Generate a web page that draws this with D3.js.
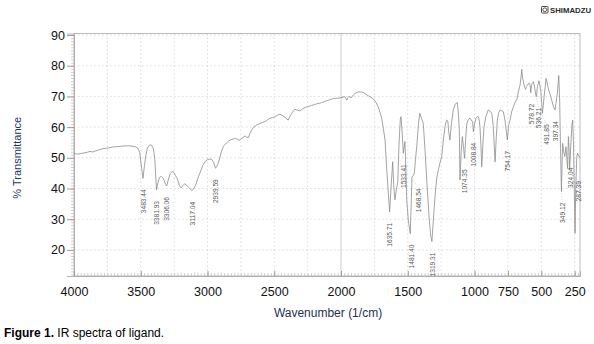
<!DOCTYPE html>
<html>
<head>
<meta charset="utf-8">
<script src="https://cdn.jsdelivr.net/npm/d3@7"></script>
<style>
  html, body { margin: 0; padding: 0; background: #fff; }
  svg { display: block; font-family: "Liberation Sans", Arial, sans-serif; }
</style>
</head>
<body>
<svg id="chart" width="594" height="344"></svg>
<script>
// IR spectrum of the ligand: wavenumber (1/cm) and % transmittance
const wavenumber = [
  4000, 3975, 3950, 3925, 3900, 3880, 3860, 3840, 3815, 3790, 3765, 3740, 3715, 3690, 3665, 3640,
  3615, 3590, 3565, 3540, 3522, 3508, 3497, 3483.44, 3472, 3462, 3450, 3432, 3418, 3405, 3395,
  3381.93, 3372, 3360, 3345, 3331, 3318, 3306.06, 3295, 3280, 3265, 3252, 3240, 3228, 3212, 3198,
  3185, 3170, 3158, 3144, 3130, 3117.04, 3100, 3085, 3068, 3052, 3035, 3018, 3000, 2985, 2969,
  2955, 2939.59, 2925, 2910, 2895, 2880, 2860, 2845, 2830, 2810, 2790, 2775, 2757, 2740, 2720,
  2705, 2694, 2682, 2669, 2650, 2631, 2607, 2590, 2569, 2550, 2532, 2515, 2494, 2475, 2457, 2440,
  2419, 2405, 2395, 2382, 2369, 2355, 2345, 2325, 2307, 2290, 2270, 2245, 2219, 2200, 2182, 2160,
  2145, 2125, 2107, 2080, 2058, 2035, 2007, 1985, 1970, 1957, 1948, 1938, 1928, 1920, 1908, 1895,
  1875, 1858, 1845, 1833, 1820, 1807, 1795, 1783, 1768, 1753, 1738, 1721, 1708, 1695, 1683, 1670,
  1660, 1648, 1635.71, 1625, 1613, 1604, 1596, 1586, 1575, 1566, 1556, 1551, 1543, 1533.41, 1527,
  1521, 1514, 1508, 1496, 1481.40, 1473, 1468.54, 1460, 1451, 1442, 1433, 1420, 1410, 1398, 1384,
  1370, 1358, 1340, 1328, 1319.31, 1308, 1296, 1283, 1271, 1258, 1246, 1232, 1221, 1210, 1200,
  1192, 1184, 1172, 1159, 1145, 1129, 1120, 1114, 1109, 1100, 1091, 1083, 1074.35, 1066, 1058,
  1046, 1034, 1020, 1014, 1008.84, 1000, 989, 980, 971, 964, 959, 952, 946, 938, 929, 915, 897,
  885, 871, 860, 852, 846, 838, 829, 818, 809, 795, 784, 772, 763, 754.17, 745, 734, 722, 709,
  697, 684, 672, 659, 650, 646, 640, 632, 625, 618, 611, 600, 590, 583, 578.72, 574, 566, 559,
  550, 543, 536.21, 529, 517, 504, 497, 491.85, 485, 479, 464, 447, 435, 422, 410, 397.34, 390,
  380, 369, 362, 356, 349.12, 344, 340, 334, 324.04, 315, 309, 303, 297, 291, 287.39, 278, 270,
  265, 259, 255, 247, 242, 234, 228, 222, 214, 210
];
const transmittance = [
  51.4, 51.2, 51.4, 51.6, 51.8, 52.1, 51.9, 52.2, 52.6, 52.9, 53.1, 53.2, 53.5, 53.6, 53.7, 53.8,
  53.9, 53.9, 53.8, 53.6, 53.1, 51.8, 48.0, 43.3, 47.5, 50.8, 53.2, 54.2, 54.1, 53.0, 49.5,
  39.5, 41.8, 43.6, 44.0, 43.3, 41.8, 40.8, 42.6, 44.8, 45.6, 45.3, 44.2, 43.4, 41.2, 40.2,
  40.9, 41.6, 41.0, 40.5, 39.9, 39.3, 40.2, 41.6, 43.8, 45.6, 47.6, 48.8, 49.4, 49.6, 49.5,
  48.6, 46.6, 47.6, 49.6, 52.2, 53.8, 54.8, 55.3, 55.8, 56.1, 56.3, 56.0, 55.7, 56.5, 57.1,
  56.7, 56.6, 57.9, 59.1, 60.2, 60.7, 61.2, 61.5, 61.8, 62.4, 62.9, 63.1, 63.4, 63.9, 64.2, 63.8,
  63.2, 62.6, 62.3, 63.6, 64.5, 65.4, 65.8, 65.5, 65.3, 65.9, 66.4, 66.7, 67.1, 67.3, 67.6, 67.8,
  68.0, 68.3, 68.6, 69.0, 69.3, 69.4, 69.5, 69.8, 69.9, 68.8, 69.6, 70.1, 69.5, 69.7, 70.5, 71.0,
  71.4, 71.5, 71.4, 71.3, 70.9, 70.5, 70.2, 69.9, 69.5, 69.0, 68.0, 66.6, 64.8, 62.9, 59.5, 55.8,
  48.0, 40.0, 32.4, 40.5, 48.7, 40.0, 36.3, 39.5, 42.2, 54.0, 62.5, 63.4, 59.0, 51.5, 53.5,
  55.3, 46.0, 36.3, 29.7, 25.3, 37.0, 43.6, 44.2, 45.0, 49.5, 53.6, 61.0, 64.5, 63.0, 61.2,
  52.0, 42.8, 30.5, 24.5, 22.7, 30.0, 37.3, 43.5, 46.0, 48.5, 50.4, 56.5, 60.1, 62.3, 62.0,
  58.0, 55.8, 61.5, 65.6, 67.5, 68.0, 64.0, 59.1, 42.8, 52.0, 56.9, 53.5, 49.8, 56.5, 61.2,
  62.5, 62.9, 62.0, 61.8, 58.5, 61.0, 62.9, 63.4, 63.4, 62.0, 60.0, 54.0, 47.1, 54.0, 60.1, 63.5, 65.6,
  65.3, 64.5, 60.5, 53.5, 48.7, 56.0, 62.3, 64.8, 65.6, 65.3, 65.0, 62.3, 59.0, 55.8, 60.5, 62.3, 65.0, 66.6,
  68.0, 68.9, 71.5, 73.7, 77.0, 78.8, 76.0, 74.3, 73.0, 72.3, 73.2, 74.0, 74.3, 73.6, 71.2, 73.5, 74.3, 74.8,
  73.0, 70.8, 69.9, 73.2, 75.1, 72.0, 68.0, 64.5, 67.0, 69.9, 75.9, 72.5, 70.8, 68.8, 66.8, 65.6, 67.7,
  71.0, 76.8, 68.0, 53.0, 39.0, 48.5, 54.7, 52.5, 50.4, 53.6, 50.0, 46.5, 56.9, 52.0, 46.0, 55.0, 61.0,
  62.3, 55.0, 45.0, 25.4, 40.0, 50.4, 51.5, 50.9, 50.2, 50.0
];

// Picked peaks (1/cm)
const peakWavenumbers = [
  3483.44, 3381.93, 3306.06, 3117.04, 2939.59, 1635.71, 1533.41, 1481.40, 1468.54, 1319.31,
  1074.35, 1008.84, 754.17, 578.72, 536.21, 491.85, 397.34, 349.12, 324.04, 287.39
];

const xTickValues = [4000, 3500, 3000, 2500, 2000, 1500, 1000, 750, 500, 250];
const yTickValues = [20, 30, 40, 50, 60, 70, 80, 90];

const spectrum = wavenumber.map((w, i) => ({ w, t: transmittance[i] }));

const svg = d3.select("#chart");
const plotL = 74, plotR = 580, plotT = 33.5, plotB = 276;

const x = d3.scaleLinear().domain([4000, 210]).range([plotL, plotR]);
const y = d3.scaleLinear().domain([11.5, 90.5]).range([plotB, plotT]);

// Grid
const gridColor = "#cccccc";
const grid = svg.append("g");
grid.selectAll("line.hgrid").data(yTickValues).join("line")
  .attr("x1", plotL).attr("x2", plotR)
  .attr("y1", d => y(d)).attr("y2", d => y(d))
  .attr("stroke", gridColor).attr("stroke-width", 0.7).attr("stroke-dasharray", "1.5,2.5");
const vgrid = d3.range(3750, 200, -250).filter(d => d !== 2000);
grid.selectAll("line.vgrid").data(vgrid).join("line")
  .attr("x1", d => x(d)).attr("x2", d => x(d))
  .attr("y1", plotT).attr("y2", plotB)
  .attr("stroke", gridColor).attr("stroke-width", 0.7).attr("stroke-dasharray", "1.5,2.5");
grid.append("line")
  .attr("x1", x(2000)).attr("x2", x(2000)).attr("y1", plotT).attr("y2", plotB)
  .attr("stroke", "#c4c4c4").attr("stroke-width", 0.9);

// Frame
svg.append("rect")
  .attr("x", plotL).attr("y", plotT).attr("width", plotR - plotL).attr("height", plotB - plotT)
  .attr("fill", "none").attr("stroke", "#b5b5b5").attr("stroke-width", 0.9);

// Minor ticks
const yMinor = d3.range(12, 91, 1);
const yMinorAxis = svg.append("g").attr("transform", `translate(${plotL},0)`)
  .call(d3.axisLeft(y).tickValues(yMinor).tickSize(3).tickFormat(""));
yMinorAxis.select(".domain").remove();
yMinorAxis.selectAll("line").attr("stroke", "#b0b0b0").attr("stroke-width", 0.6);

const xMinor = d3.range(4000, 205, -25);
const xMinorAxis = svg.append("g").attr("transform", `translate(0,${plotB})`)
  .call(d3.axisBottom(x).tickValues(xMinor).tickSize(-3).tickFormat(""));
xMinorAxis.select(".domain").remove();
xMinorAxis.selectAll("line").attr("stroke", "#b0b0b0").attr("stroke-width", 0.6);

// Major axes
const yAxis = svg.append("g").attr("transform", `translate(${plotL},0)`)
  .call(d3.axisLeft(y).tickValues(yTickValues).tickSize(7).tickPadding(2).tickFormat(d3.format("d")));
yAxis.select(".domain").attr("stroke", "#b0b0b0");
yAxis.selectAll("line").attr("stroke", "#9a9a9a");
yAxis.selectAll("text").attr("fill", "#111").style("font-size", "12.5px");

const xAxis = svg.append("g").attr("transform", `translate(0,${plotB})`)
  .call(d3.axisBottom(x).tickValues(xTickValues).tickSize(-5).tickPadding(11).tickFormat(d3.format("d")));
xAxis.select(".domain").attr("stroke", "#b0b0b0");
xAxis.selectAll("line").attr("stroke", "#9a9a9a");
xAxis.selectAll("text").attr("fill", "#111").style("font-size", "12.5px");

// Spectrum trace
const line = d3.line().x(d => x(d.w)).y(d => y(d.t));
svg.append("path")
  .datum(spectrum)
  .attr("d", line)
  .attr("fill", "none")
  .attr("stroke", "#8c8c8c")
  .attr("stroke-width", 0.8)
  .attr("stroke-linejoin", "round");

// Peak labels, spread sideways where peaks crowd together
const peaks = peakWavenumbers.map(w => {
  const i = wavenumber.indexOf(w);
  return { w, t: transmittance[i], px: x(w) };
}).sort((a, b) => a.px - b.px);
const minGap = 7.6;
peaks.forEach((p, i) => {
  p.lx = p.px;
  if (i > 0 && p.lx - peaks[i - 1].lx < minGap) p.lx = peaks[i - 1].lx + minGap;
});

const labelGap = 11;
const labels = svg.append("g");
peaks.forEach(p => {
  const text = p.w.toFixed(2);
  const len = text.length * 3.4;
  let topY = y(p.t) + labelGap;
  if (topY + len > plotB + 1) topY = plotB + 1 - len;
  if (Math.abs(p.lx - p.px) > 1) {
    labels.append("line")
      .attr("x1", p.px).attr("y1", y(p.t) + 2)
      .attr("x2", p.lx).attr("y2", topY - 1)
      .attr("stroke", "#a8a8a8").attr("stroke-width", 0.5).attr("stroke-dasharray", "1,1.5");
  }
  labels.append("text")
    .attr("transform", `translate(${p.lx},${topY}) rotate(-90)`)
    .attr("text-anchor", "end")
    .attr("dy", "0.35em")
    .attr("textLength", len)
    .attr("lengthAdjust", "spacingAndGlyphs")
    .attr("fill", "#5a5a5a")
    .style("font-size", "8px")
    .text(text);
});

// Axis titles
svg.append("text")
  .attr("transform", `translate(17,${(plotT + plotB) / 2 + 3}) rotate(-90)`)
  .attr("text-anchor", "middle")
  .attr("dy", "0.35em")
  .attr("fill", "#1f3566")
  .style("font-size", "11px")
  .text("% Transmittance");

svg.append("text")
  .attr("x", 328).attr("y", 317)
  .attr("text-anchor", "middle")
  .attr("fill", "#1f2f55")
  .style("font-size", "12px")
  .text("Wavenumber (1/cm)");

// Instrument mark
const logo = svg.append("g").attr("transform", "translate(541.5,6.5)");
logo.append("rect").attr("width", 6.5).attr("height", 6.5).attr("rx", 0.8)
  .attr("fill", "none").attr("stroke", "#333").attr("stroke-width", 0.9);
logo.append("circle").attr("cx", 3.25).attr("cy", 3.25).attr("r", 1.9)
  .attr("fill", "none").attr("stroke", "#333").attr("stroke-width", 0.8);
svg.append("text")
  .attr("x", 550).attr("y", 13)
  .attr("fill", "#2b2b2b")
  .attr("textLength", 41)
  .attr("lengthAdjust", "spacingAndGlyphs")
  .style("font-size", "7.5px").style("font-weight", "bold")
  .text("SHIMADZU");

// Caption
const cap = svg.append("text").attr("x", 4).attr("y", 337).attr("fill", "#000").style("font-size", "12px");
cap.append("tspan").style("font-weight", "bold").text("Figure 1.");
cap.append("tspan").text(" IR spectra of ligand.");
</script>
</body>
</html>
